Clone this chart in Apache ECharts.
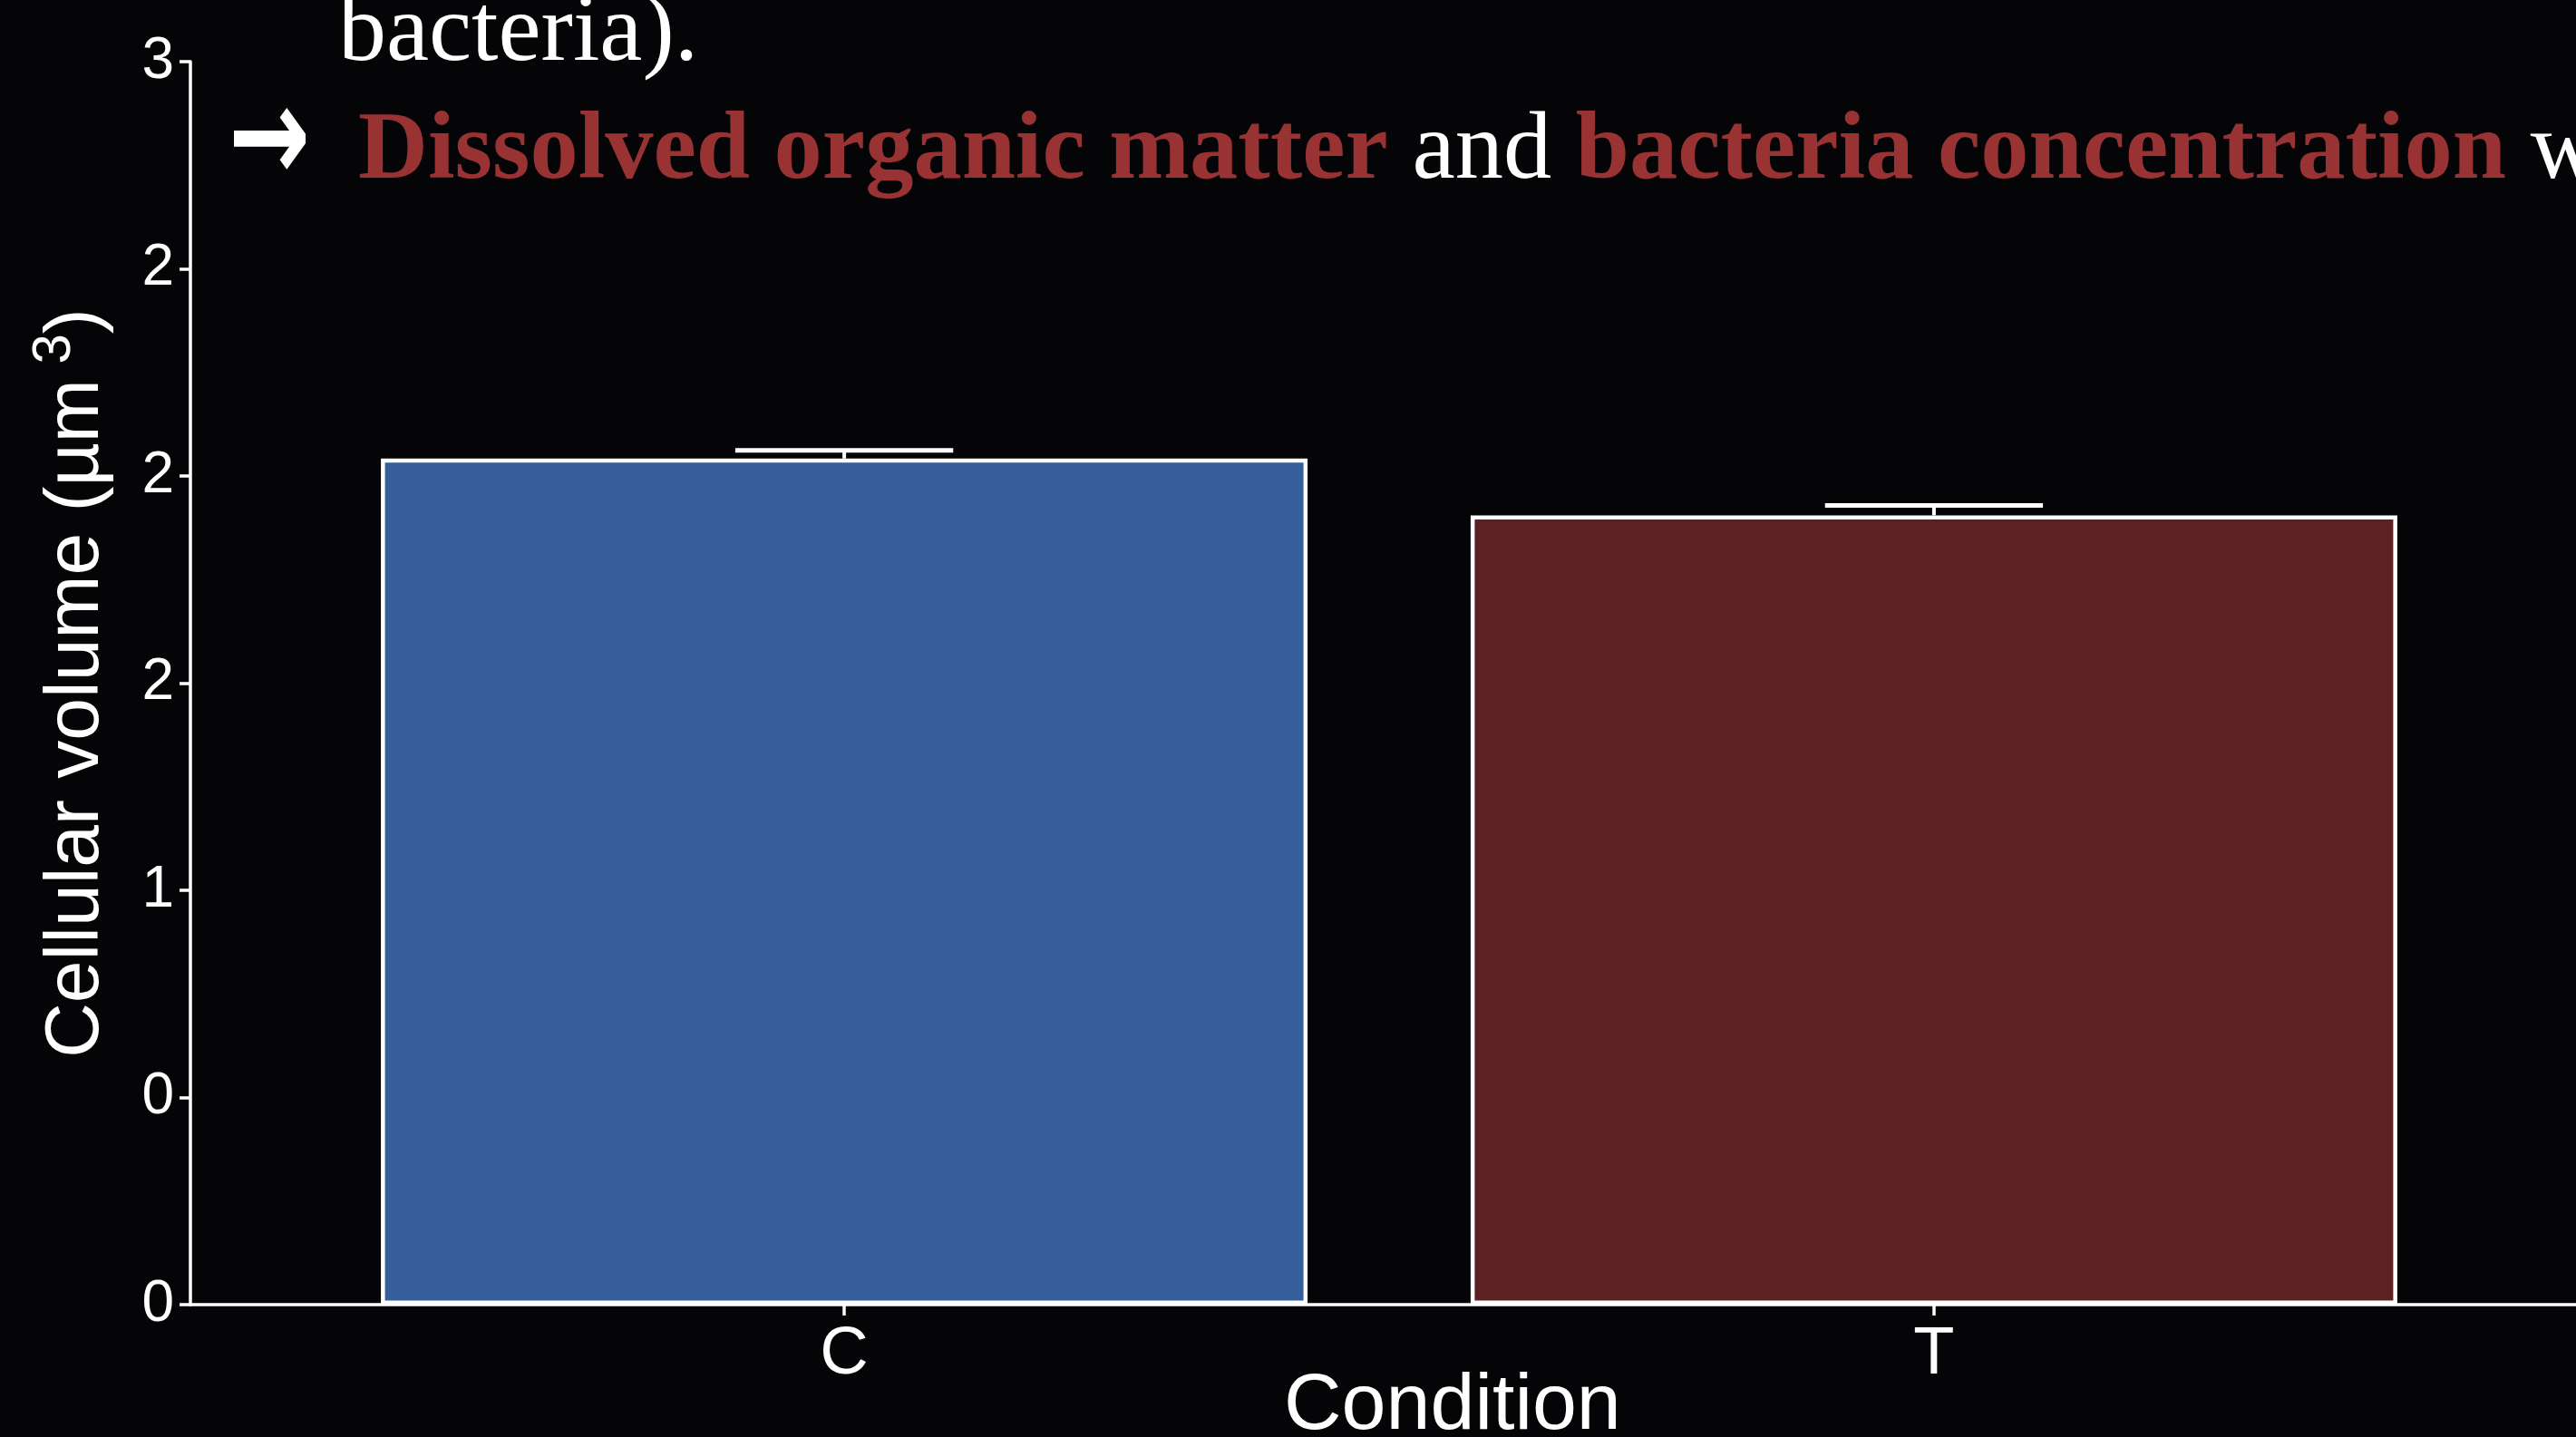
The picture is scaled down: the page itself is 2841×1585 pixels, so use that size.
<!DOCTYPE html>
<html>
<head>
<meta charset="utf-8">
<script src="https://cdn.jsdelivr.net/npm/echarts@6/dist/echarts.min.js"></script>
<style>
  html, body { margin: 0; padding: 0; background: #050508; }
  #chart { width: 2841px; height: 1585px; }
</style>
</head>
<body>
<div id="chart"></div>
<script>
// ---- data ----
const categories = ['C', 'T'];
const categoryPositions = [1, 2];
const meanValues = [2.042, 1.905];
const upperValues = [2.062, 1.929];
const barColors = ['#355E9A', '#5C2123'];
const yTickValues = [0, 0.5, 1, 1.5, 2, 2.5, 3];
const yTickLabels = ['0', '0', '1', '2', '2', '2', '3'];
const yAxisTitle = '{t|Cellular volume (µm}{s| 3}{t|)}';
const xAxisTitle = 'Condition';
const slideLine1 = 'bacteria).';
const slideArrow = '→';
const slideLine2 = '{b|Dissolved organic matter}{n| and }{b|bacteria concentration}{n| w}';

const chart = echarts.init(document.getElementById('chart'), null, { renderer: 'canvas' });

const barData = categoryPositions.map((x, i) => ({ value: [x, meanValues[i]], itemStyle: { color: barColors[i] } }));
const errData = categoryPositions.map((x, i) => [x, meanValues[i], upperValues[i]]);

const option = {
  backgroundColor: '#050508',
  animation: false,
  grid: { left: 210, top: 68, width: 2644, height: 1371, outerBoundsMode: 'none', containLabel: false },
  xAxis: {
    type: 'value', min: 0.4, max: 2.6,
    splitLine: { show: false },
    axisLine: { show: true, lineStyle: { color: '#ffffff', width: 3.5 } },
    axisTick: { show: true, length: 12, lineStyle: { color: '#ffffff', width: 3.5 }, customValues: categoryPositions },
    axisLabel: {
      color: '#ffffff', fontFamily: 'Liberation Sans', fontSize: 74, margin: 19,
      customValues: categoryPositions,
      formatter: v => categories[categoryPositions.indexOf(Math.round(v))] || ''
    }
  },
  yAxis: {
    type: 'value', min: 0, max: 3, interval: 0.5,
    splitLine: { show: false },
    axisLine: { show: true, lineStyle: { color: '#ffffff', width: 3.5 } },
    axisTick: { show: true, length: 12, lineStyle: { color: '#ffffff', width: 3.5 } },
    axisLabel: {
      color: '#ffffff', fontFamily: 'Liberation Sans', fontSize: 64, margin: 18,
      formatter: v => yTickLabels[yTickValues.indexOf(v)] ?? ''
    },
    name: yAxisTitle,
    nameLocation: 'middle',
    nameRotate: 90,
    nameGap: 70,
    nameTextStyle: {
      rich: {
        t: { color: '#ffffff', fontFamily: 'Liberation Sans', fontSize: 84, lineHeight: 110 },
        s: { color: '#ffffff', fontFamily: 'Liberation Sans', fontSize: 60, verticalAlign: 'top', lineHeight: 110 }
      }
    }
  },
  series: [
    {
      type: 'bar',
      data: barData,
      barWidth: 1022,
      itemStyle: { borderColor: '#ffffff', borderWidth: 4.5 },
      z: 2
    },
    {
      type: 'custom',
      data: errData,
      z: 3,
      renderItem: function (params, api) {
        const x = api.value(0), m = api.value(1), hi = api.value(2);
        const pm = api.coord([x, m]);
        const ph = api.coord([x, hi]);
        const half = api.size([0.1, 0])[0];
        const style = { stroke: '#ffffff', lineWidth: 5 };
        return {
          type: 'group',
          children: [
            { type: 'line', shape: { x1: pm[0], y1: pm[1], x2: ph[0], y2: ph[1] }, style: { stroke: '#ffffff', lineWidth: 4 } },
            { type: 'line', shape: { x1: ph[0] - half, y1: ph[1], x2: ph[0] + half, y2: ph[1] }, style }
          ]
        };
      }
    }
  ],
  graphic: [
    {
      type: 'text', left: 1606 - 190, top: 1508, z: 10,
      style: { text: xAxisTitle, fill: '#ffffff', font: '88px "Liberation Sans"' }
    },
    {
      type: 'text', x: 373, y: 38, z: 10,
      style: { text: slideLine1, fill: '#ffffff', font: '106px "Liberation Serif"', verticalAlign: 'middle' }
    },
    {
      type: 'text', x: 252, y: 161, z: 10, scaleX: 0.72,
      style: { text: slideArrow, fill: '#ffffff', font: 'bold 150px "DejaVu Sans"', verticalAlign: 'middle' }
    },
    {
      type: 'text', x: 395, y: 168, z: 10,
      style: {
        text: slideLine2, verticalAlign: 'middle',
        rich: {
          b: { fill: '#993333', fontFamily: 'Liberation Serif', fontWeight: 'bold', fontSize: 106.5 },
          n: { fill: '#ffffff', fontFamily: 'Liberation Serif', fontSize: 106.5 }
        }
      }
    }
  ]
};
chart.setOption(option);
</script>
</body>
</html>
